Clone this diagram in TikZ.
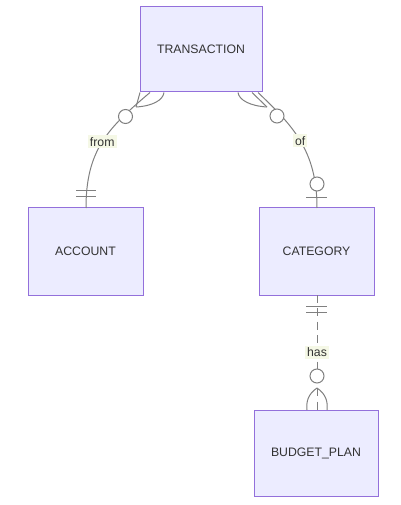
\documentclass[tikz,border=0pt]{standalone}
\usepackage{fontspec}
\setmainfont{Liberation Sans}
\usetikzlibrary{positioning}

\definecolor{entfill}{HTML}{ECECFF}
\definecolor{entline}{HTML}{9370DB}
\definecolor{relline}{HTML}{808080}
\definecolor{lblfill}{HTML}{F5F8E6}
\definecolor{txt}{HTML}{333333}

\begin{document}
\begin{tikzpicture}[x=0.75pt, y=-0.75pt,
  entity/.style={draw=entline, fill=entfill, line width=0.75pt, inner sep=0pt,
    minimum width=86.25pt, minimum height=65.25pt, text=txt,
    font=\fontsize{9.2}{11}\selectfont},
  rel/.style={draw=relline, line width=0.75pt},
  lbl/.style={fill=lblfill, inner sep=1.5pt, text=txt, font=\fontsize{9.2}{11}\selectfont},
  opt/.style={circle, draw=relline, fill=white, line width=0.75pt, inner sep=0pt, minimum size=10.5pt}]
  \useasboundingbox (0,0) rectangle (400,505);

  % entities
  \node[entity, minimum width=91.5pt, minimum height=63.75pt] (TRANSACTION) at (201,49.5) {TRANSACTION};
  \node[entity] (ACCOUNT) at (85.5,251.5) {ACCOUNT};
  \node[entity] (CATEGORY) at (316.5,251.5) {CATEGORY};
  \node[entity, minimum width=93pt, minimum height=64.5pt] (BUDGET) at (316,453) {BUDGET\_PLAN};

  % end points on the boxes
  \coordinate (t1) at (150,92.5);
  \coordinate (t2) at (258,92.5);
  \coordinate (a1) at (86,208);
  \coordinate (c1) at (317,208);
  \coordinate (c2) at (317,295);
  \coordinate (b1) at (317,410);

  % TRANSACTION -- ACCOUNT
  \draw[rel] (t1) .. controls (108,128) and (86,150) .. (a1)
    node[lbl, pos=0.5] {from};
  \draw[rel] (136,107) -- (140,92.5);
  \draw[rel] (136,107) .. controls (153,106) and (163,100) .. (164,92.5);
  \node[opt] (o1) at (125.5,116.5) {};
  \draw[rel] (76,191) -- (96,191);
  \draw[rel] (76,197) -- (96,197);

  % TRANSACTION -- CATEGORY
  \draw[rel] (t2) .. controls (292,125) and (317,150) .. (c1)
    node[lbl, pos=0.5] {of};
  \draw[rel] (267,107) -- (252,92.5);
  \draw[rel] (267,107) .. controls (250,106) and (239,100) .. (238,92.5);
  \node[opt] (o2) at (277,116) {};
  \node[opt] (o3) at (317,184) {};
  \draw[rel] (306,198) -- (327,198);

  % CATEGORY -- BUDGET_PLAN
  \draw[rel, dash pattern=on 6pt off 4pt] (c2) -- (b1)
    node[lbl, pos=0.5] {has};
  \draw[rel] (306,306) -- (327,306);
  \draw[rel] (306,312) -- (327,312);
  \node[opt] (o4) at (317,376) {};
  \draw[rel] (317,388) .. controls (308,394) and (306,402) .. (307,410);
  \draw[rel] (317,388) .. controls (326,394) and (328,402) .. (327,410);
\end{tikzpicture}
\end{document}
